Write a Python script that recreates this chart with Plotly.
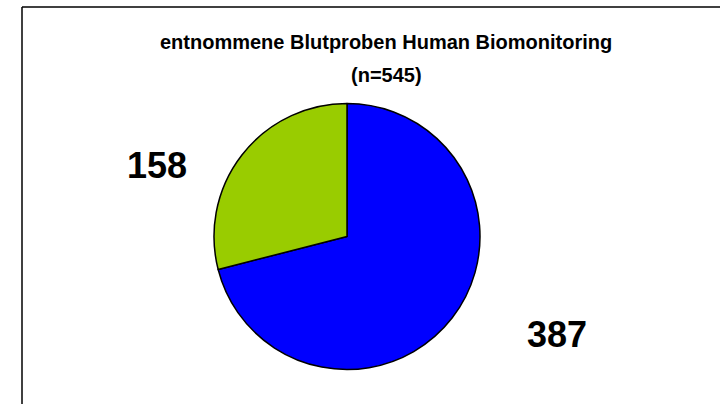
import plotly.graph_objects as go

categories = ["Gruppe A", "Gruppe B"]
values = [387, 158]
colors = ["#0000FF", "#99CC00"]
title_line1 = "entnommene Blutproben Human Biomonitoring"
title_line2 = "(n=545)"

W, H = 720, 404

fig = go.Figure(go.Pie(
    labels=categories,
    values=values,
    sort=False,
    direction="clockwise",
    rotation=0,
    marker=dict(colors=colors, line=dict(color="black", width=1.5)),
    textinfo="none",
    hoverinfo="label+value",
    showlegend=False,
    domain=dict(x=[214 / W, 480 / W], y=[1 - 369.5 / H, 1 - 103.5 / H]),
))

FONT = "Liberation Sans, Arial, sans-serif"
annotations = [
    dict(text=f"<b>{title_line1}</b>", x=386 / W, y=1 - 42 / H, xref="paper", yref="paper",
         showarrow=False, font=dict(family=FONT, size=20, color="black"), xanchor="center", yanchor="middle"),
    dict(text=f"<b>{title_line2}</b>", x=386 / W, y=1 - 75 / H, xref="paper", yref="paper",
         showarrow=False, font=dict(family=FONT, size=20, color="black"), xanchor="center", yanchor="middle"),
    dict(text=f"<b>{values[1]}</b>", x=157 / W, y=1 - 166 / H, xref="paper", yref="paper",
         showarrow=False, font=dict(family=FONT, size=36, color="black"), xanchor="center", yanchor="middle"),
    dict(text=f"<b>{values[0]}</b>", x=557 / W, y=1 - 334 / H, xref="paper", yref="paper",
         showarrow=False, font=dict(family=FONT, size=36, color="black"), xanchor="center", yanchor="middle"),
]

shapes = [
    dict(type="line", xref="paper", yref="paper", x0=22 / W, x1=22 / W, y0=-0.05, y1=1 - 7 / H,
         line=dict(color="black", width=1.5)),
    dict(type="line", xref="paper", yref="paper", x0=22 / W, x1=1.05, y0=1 - 7 / H, y1=1 - 7 / H,
         line=dict(color="black", width=1.5)),
]

fig.update_layout(
    width=W, height=H,
    margin=dict(l=0, r=0, t=0, b=0),
    paper_bgcolor="white",
    plot_bgcolor="white",
    annotations=annotations,
    shapes=shapes,
)

fig.write_html(
    "out.html",
    config={"displayModeBar": False},
    post_script="document.body.style.margin='0';document.body.style.overflow='hidden';",
)
